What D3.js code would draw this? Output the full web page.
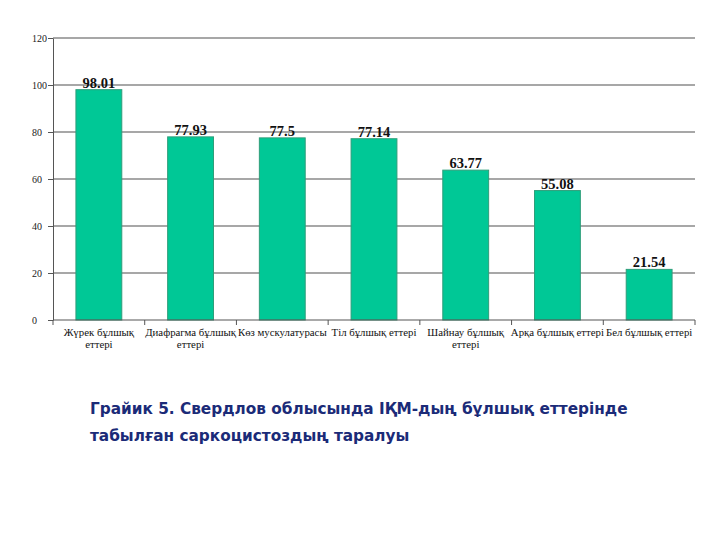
<!DOCTYPE html>
<html><head><meta charset="utf-8">
<script src="https://cdn.jsdelivr.net/npm/d3@7/dist/d3.min.js"></script>
<style>body{margin:0;background:#fff}</style>
</head><body>
<svg id="c" width="720" height="540"></svg>
<script>
const categories = [["Жүрек бұлшық","еттері"],["Диафрагма бұлшық","еттері"],["Көз мускулатурасы"],["Тіл бұлшық еттері"],["Шайнау бұлшық","еттері"],["Арқа бұлшық еттері"],["Бел бұлшық еттері"]];
const values = [98.01, 77.93, 77.5, 77.14, 63.77, 55.08, 21.54];
const valueLabels = ["98.01","77.93","77.5","77.14","63.77","55.08","21.54"];
const yTicks = [0,20,40,60,80,100,120];
const titleLines = ["Грайик 5. Свердлов облысында ІҚМ-дың бұлшық еттерінде","табылған саркоцистоздың таралуы"];

const svg = d3.select("#c");
const L=53, R=695, T=38, B=320;
const x = d3.scaleBand().domain(d3.range(values.length)).range([L,R]).paddingInner(0.5).paddingOuter(0.25);
const xb = d3.scaleBand().domain(d3.range(values.length)).range([L,R]);
const y = d3.scaleLinear().domain([0,120]).range([B,T]);

// gridlines
svg.append("g").selectAll("line").data(yTicks.filter(d=>d>0)).join("line")
  .attr("x1",L).attr("x2",R).attr("y1",d=>y(d)).attr("y2",d=>y(d))
  .attr("stroke","#8a8a8a").attr("stroke-width",1.5);

// y axis
const ya = svg.append("g").attr("transform",`translate(${L},0)`)
  .call(d3.axisLeft(y).tickValues(yTicks).tickSize(5).tickSizeOuter(0));
ya.select(".domain").attr("stroke","#555");
ya.selectAll(".tick line").attr("stroke","#555");
ya.selectAll("text").attr("font-family","Liberation Serif, serif").attr("font-size",10).attr("fill","#222")
  .attr("text-anchor","start").attr("x",-21);

// bars
svg.append("g").selectAll("rect").data(values).join("rect")
  .attr("x",(d,i)=>x(i)).attr("width",x.bandwidth())
  .attr("y",d=>y(d)).attr("height",d=>B-y(d))
  .attr("fill","#00c896").attr("stroke","#2f9e7a").attr("stroke-width",1);

// value labels
svg.append("g").selectAll("text").data(values).join("text")
  .attr("x",(d,i)=>x(i)+x.bandwidth()/2).attr("y",d=>y(d)-2)
  .attr("text-anchor","middle").attr("font-family","Liberation Serif, serif")
  .attr("font-weight","bold").attr("font-size",14.5).attr("fill","#111")
  .text((d,i)=>valueLabels[i]);

// x axis
const xa = svg.append("g").attr("transform",`translate(0,${B})`);
xa.append("line").attr("x1",L).attr("x2",R).attr("stroke","#555").attr("stroke-width",1);
xa.selectAll("line.t").data(d3.range(values.length+1)).join("line").attr("class","t")
  .attr("x1",i=>L+i*xb.step()).attr("x2",i=>L+i*xb.step()).attr("y1",0).attr("y2",5).attr("stroke","#555");
const lab = xa.selectAll("text").data(categories).join("text")
  .attr("text-anchor","middle").attr("font-family","Liberation Serif, serif").attr("font-size",10.8).attr("fill","#111")
  .attr("transform",(d,i)=>`translate(${xb(i)+xb.bandwidth()/2},0)`);
lab.selectAll("tspan").data(d=>d).join("tspan").attr("x",0).attr("y",(d,j)=>16+j*11.5).text(d=>d);

// title
svg.append("g").selectAll("text").data(titleLines).join("text")
  .attr("x",90).attr("y",(d,i)=>414+i*27)
  .attr("font-family","DejaVu Sans, sans-serif").attr("font-weight","bold").attr("font-size",15.3)
  .attr("fill","#1b2b78").text(d=>d);
</script>
</body></html>
